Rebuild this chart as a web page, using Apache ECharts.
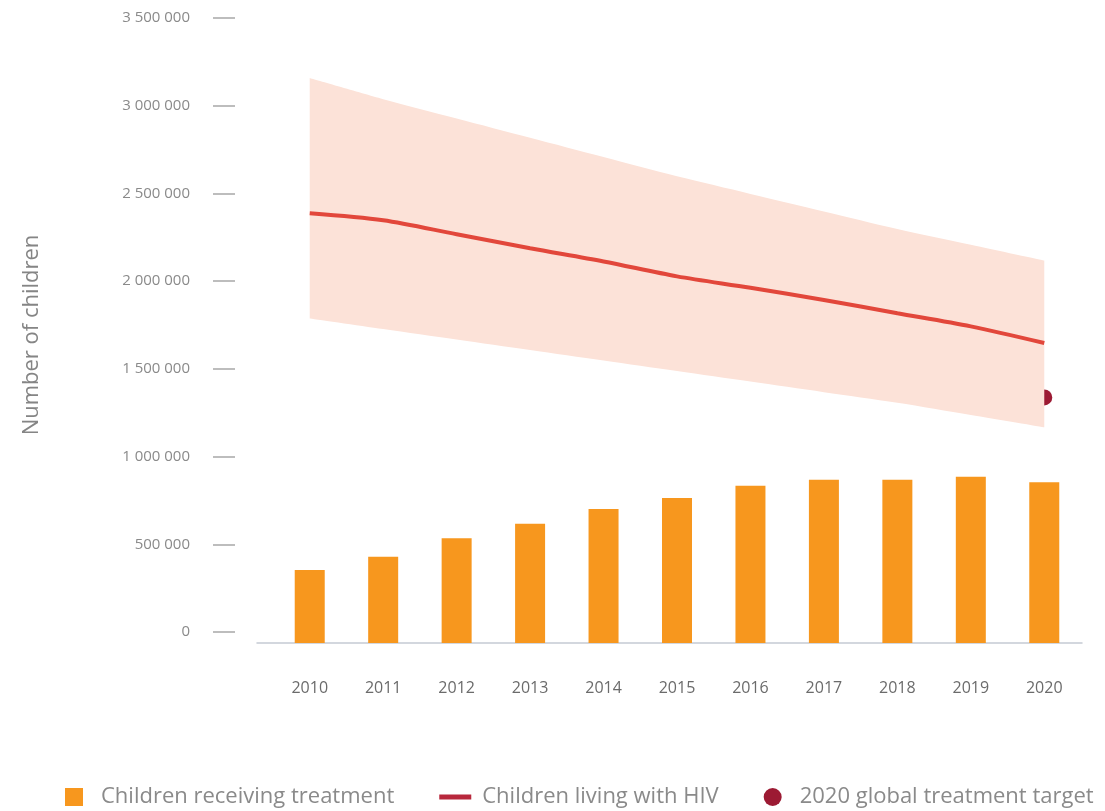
<!DOCTYPE html>
<html>
<head>
    <meta charset="utf-8">
    <title>Children living with HIV and receiving treatment</title>
    <script src="https://cdn.jsdelivr.net/npm/echarts@6/dist/echarts.min.js"></script>
    <style>
        html, body { margin: 0; padding: 0; background: #fff; }
        #chart { width: 1105px; height: 811px; }
    </style>
</head>
<body>
    <div id="chart"></div>
    <script>
        // data
        var years = ['2010', '2011', '2012', '2013', '2014', '2015', '2016', '2017', '2018', '2019', '2020'];
        var onTreatment = [416000, 492000, 597000, 680000, 764000, 826000, 897000, 931000, 931000, 947000, 916000];
        var livingWithHiv = [2450000, 2410000, 2330000, 2250000, 2175000, 2090000, 2025000, 1955000, 1880000, 1805000, 1710000];
        var hivUpper = [3220000, 3100000, 2990000, 2880000, 2770000, 2660000, 2560000, 2460000, 2360000, 2270000, 2180000];
        var hivLower = [1850000, 1790000, 1730000, 1670000, 1610000, 1550000, 1490000, 1430000, 1370000, 1300000, 1230000];
        var targetYear = '2020';
        var targetValue = 1400000;
        var yTicks = { max: 3500000, step: 500000 };

        var bandWidth = hivUpper.map(function (v, i) { return v - hivLower[i]; });

        function spaced(v) {
            return String(v).replace(/\B(?=(\d{3})+(?!\d))/g, ' ');
        }

        var font = 'Open Sans';
        var chart = echarts.init(document.getElementById('chart'));
        var option = {
            animation: false,
            textStyle: { fontFamily: font },
            grid: [
                // y labels and dashes (sit a little above the data scale, as in the original)
                { left: 235, right: 24, top: 18, bottom: 179 },
                // data
                { left: 273, right: 24, top: 29, bottom: 168 },
                // baseline
                { left: 257, right: 23, top: 29, bottom: 168 }
            ],
            xAxis: [
                { gridIndex: 0, type: 'value', show: false },
                {
                    gridIndex: 1,
                    type: 'category',
                    data: years,
                    axisLine: { show: false },
                    axisTick: { show: false },
                    axisLabel: { color: '#6b6b6b', fontSize: 16, margin: 37, fontFamily: font }
                },
                {
                    gridIndex: 2,
                    type: 'value',
                    min: 0,
                    max: 1,
                    axisLine: { show: true, lineStyle: { color: '#c5cad3', width: 1.5 } },
                    axisTick: { show: false },
                    axisLabel: { show: false },
                    splitLine: { show: false }
                }
            ],
            yAxis: [
                {
                    gridIndex: 0,
                    type: 'value',
                    min: 0,
                    max: yTicks.max,
                    interval: yTicks.step,
                    name: 'Number of children',
                    nameLocation: 'middle',
                    nameRotate: 90,
                    nameGap: 192,
                    nameTextStyle: { color: '#858585', fontSize: 22, fontFamily: font, padding: [0, 20, 0, 0] },
                    axisLine: { show: false },
                    axisTick: { show: true, length: 22, lineStyle: { color: '#a8a8a8', width: 1.5 } },
                    axisLabel: {
                        color: '#8a8a8a',
                        fontSize: 15,
                        margin: 45,
                        fontFamily: font,
                        formatter: spaced
                    },
                    splitLine: { show: false }
                },
                { gridIndex: 1, type: 'value', min: 0, max: yTicks.max, show: false },
                { gridIndex: 2, type: 'value', show: false }
            ],
            legend: {
                left: 60,
                top: 781,
                itemWidth: 32,
                itemHeight: 18,
                itemGap: 45,
                textStyle: { color: '#8a8a8a', fontSize: 22, fontFamily: font, padding: [0, 0, 0, 6] },
                data: [
                    { name: 'Children receiving treatment', icon: 'path://M0,0h10v10h-10z' },
                    { name: 'Children living with HIV', icon: 'path://M0,0h32v5h-32z', itemStyle: { color: '#b8283c' } },
                    { name: '2020 global treatment target', icon: 'circle' }
                ]
            },
            series: [
                {
                    type: 'line',
                    xAxisIndex: 1,
                    yAxisIndex: 1,
                    stack: 'band',
                    data: hivLower,
                    smooth: 0.3,
                    symbol: 'none',
                    lineStyle: { opacity: 0 },
                    silent: true
                },
                {
                    type: 'line',
                    xAxisIndex: 1,
                    yAxisIndex: 1,
                    stack: 'band',
                    data: bandWidth,
                    smooth: 0.3,
                    symbol: 'none',
                    lineStyle: { opacity: 0 },
                    areaStyle: { color: '#fce2d8', opacity: 1 },
                    silent: true
                },
                {
                    name: 'Children receiving treatment',
                    type: 'bar',
                    xAxisIndex: 1,
                    yAxisIndex: 1,
                    data: onTreatment,
                    barWidth: 30,
                    itemStyle: { color: '#f7971e' }
                },
                {
                    name: 'Children living with HIV',
                    type: 'line',
                    xAxisIndex: 1,
                    yAxisIndex: 1,
                    data: livingWithHiv,
                    smooth: 0.3,
                    symbol: 'none',
                    lineStyle: { color: '#e2473b', width: 4 },
                    itemStyle: { color: '#e2473b' }
                },
                {
                    name: '2020 global treatment target',
                    type: 'scatter',
                    xAxisIndex: 1,
                    yAxisIndex: 1,
                    data: [[targetYear, targetValue]],
                    symbolSize: 16,
                    itemStyle: { color: '#9c1a33', opacity: 1 }
                }
            ]
        };
        chart.setOption(option);

        window.addEventListener('resize', function () {
            chart.resize();
        });
    </script>
</body>
</html>
